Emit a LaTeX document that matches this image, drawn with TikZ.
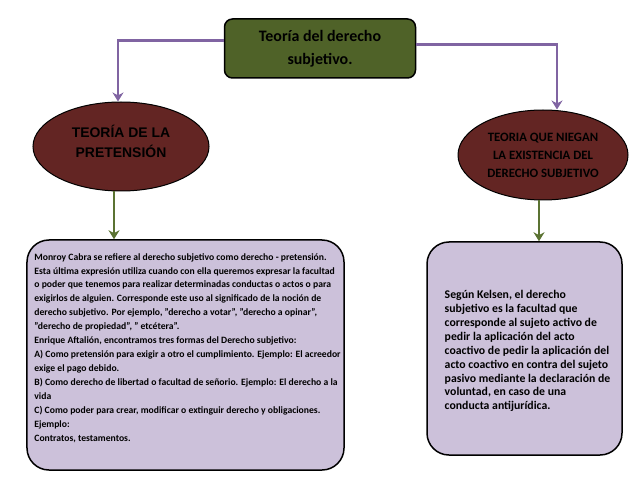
\documentclass[tikz,border=0pt]{standalone}
\usepackage{fontspec}
\setmainfont{Carlito}
\newfontfamily\arialfont{Liberation Sans}
\usetikzlibrary{shapes.geometric,arrows.meta}
\definecolor{verdeoliva}{HTML}{4F6228}
\definecolor{rojooscuro}{HTML}{632523}
\definecolor{lavanda}{HTML}{CCC1DA}
\definecolor{morado}{HTML}{8064A2}
\definecolor{verdeflecha}{HTML}{5B7332}
\begin{document}
\begin{tikzpicture}[x=1bp,y=-1bp,
    titulo/.style={draw,line width=1.5bp,rounded corners=8bp,fill=verdeoliva,
        minimum width=191bp,minimum height=59bp,align=center,
        font=\bfseries\fontsize{16}{23}\selectfont},
    teoria/.style={ellipse,draw,line width=1bp,fill=rojooscuro,inner sep=0pt,align=center},
    caja/.style={draw,line width=1.5bp,rounded corners=22bp,fill=lavanda},
    texto/.style={align=left,inner sep=0pt,font=\bfseries\fontsize{9.7}{14}\selectfont},
    flechamorada/.style={-{Stealth[length=9bp,width=11bp]},line width=2.5bp,morado},
    flechaverde/.style={-{Stealth[length=9bp,width=11bp]},line width=2.5bp,verdeflecha}]

    \useasboundingbox (0,0) rectangle (638,493);

    % Titulo
    \node[titulo] (titulo) at (320,48.5) {Teoría del derecho\\subjetivo.};

    % Teorias
    \node[teoria,minimum width=176bp,minimum height=89bp,
        label={[align=center,yshift=5bp,font=\arialfont\bfseries\fontsize{14}{20}\selectfont]center:TEORÍA DE LA\\PRETENSIÓN}]
        (teoriaizq) at (121,146.5) {};
    \node[teoria,minimum width=170bp,minimum height=90bp,
        font=\bfseries\fontsize{12.8}{18}\selectfont] (teoriader) at (543,155)
        {TEORIA QUE NIEGAN\\LA EXISTENCIA DEL\\DERECHO SUBJETIVO};

    % Cajas de texto
    \node[caja,minimum width=317bp,minimum height=230bp] (cajaizq) at (185.5,355) {};
    \node[caja,minimum width=195bp,minimum height=213bp] (cajader) at (524.5,348.5) {};

    \node[texto] (textoizq) at (187.5,348) {%
        Monroy Cabra se refiere al derecho subjetivo como derecho - pretensión.\\
        Esta última expresión utiliza cuando con ella queremos expresar la facultad\\
        o poder que tenemos para realizar determinadas conductas o actos o para\\
        exigirlos de alguien. Corresponde este uso al significado de la noción de\\
        derecho subjetivo. Por ejemplo, "derecho a votar", "derecho a opinar",\\
        "derecho de propiedad”, " etcétera”.\\
        Enrique Aftalión, encontramos tres formas del Derecho subjetivo:\\
        A) Como pretensión para exigir a otro el cumplimiento. Ejemplo: El acreedor\\
        exige el pago debido.\\
        B) Como derecho de libertad o facultad de señorio. Ejemplo: El derecho a la\\
        vida\\
        C) Como poder para crear, modificar o extinguir derecho y obligaciones.\\
        Ejemplo:\\
        Contratos, testamentos.};

    \node[texto,font=\bfseries\fontsize{11.8}{14}\selectfont] (textoder) at (527.5,351) {%
        Según Kelsen, el derecho\\
        subjetivo es la facultad que\\
        corresponde al sujeto activo de\\
        pedir la aplicación del acto\\
        coactivo de pedir la aplicación del\\
        acto coactivo en contra del sujeto\\
        pasivo mediante la declaración de\\
        voluntad, en caso de una\\
        conducta antijurídica.};

    % Flechas
    \draw[flechamorada] ([yshift=8bp]titulo.west) -| ([xshift=-3bp]teoriaizq.north);
    \draw[flechamorada] ([yshift=4bp]titulo.east) -| ([xshift=14bp]teoriader.north);
    \draw[flechaverde] ([xshift=-7bp]teoriaizq.south) -- ([xshift=-7bp]teoriaizq.south |- cajaizq.north);
    \draw[flechaverde] ([xshift=-4bp]teoriader.south) -- ([xshift=-4bp]teoriader.south |- cajader.north);

\end{tikzpicture}
\end{document}
